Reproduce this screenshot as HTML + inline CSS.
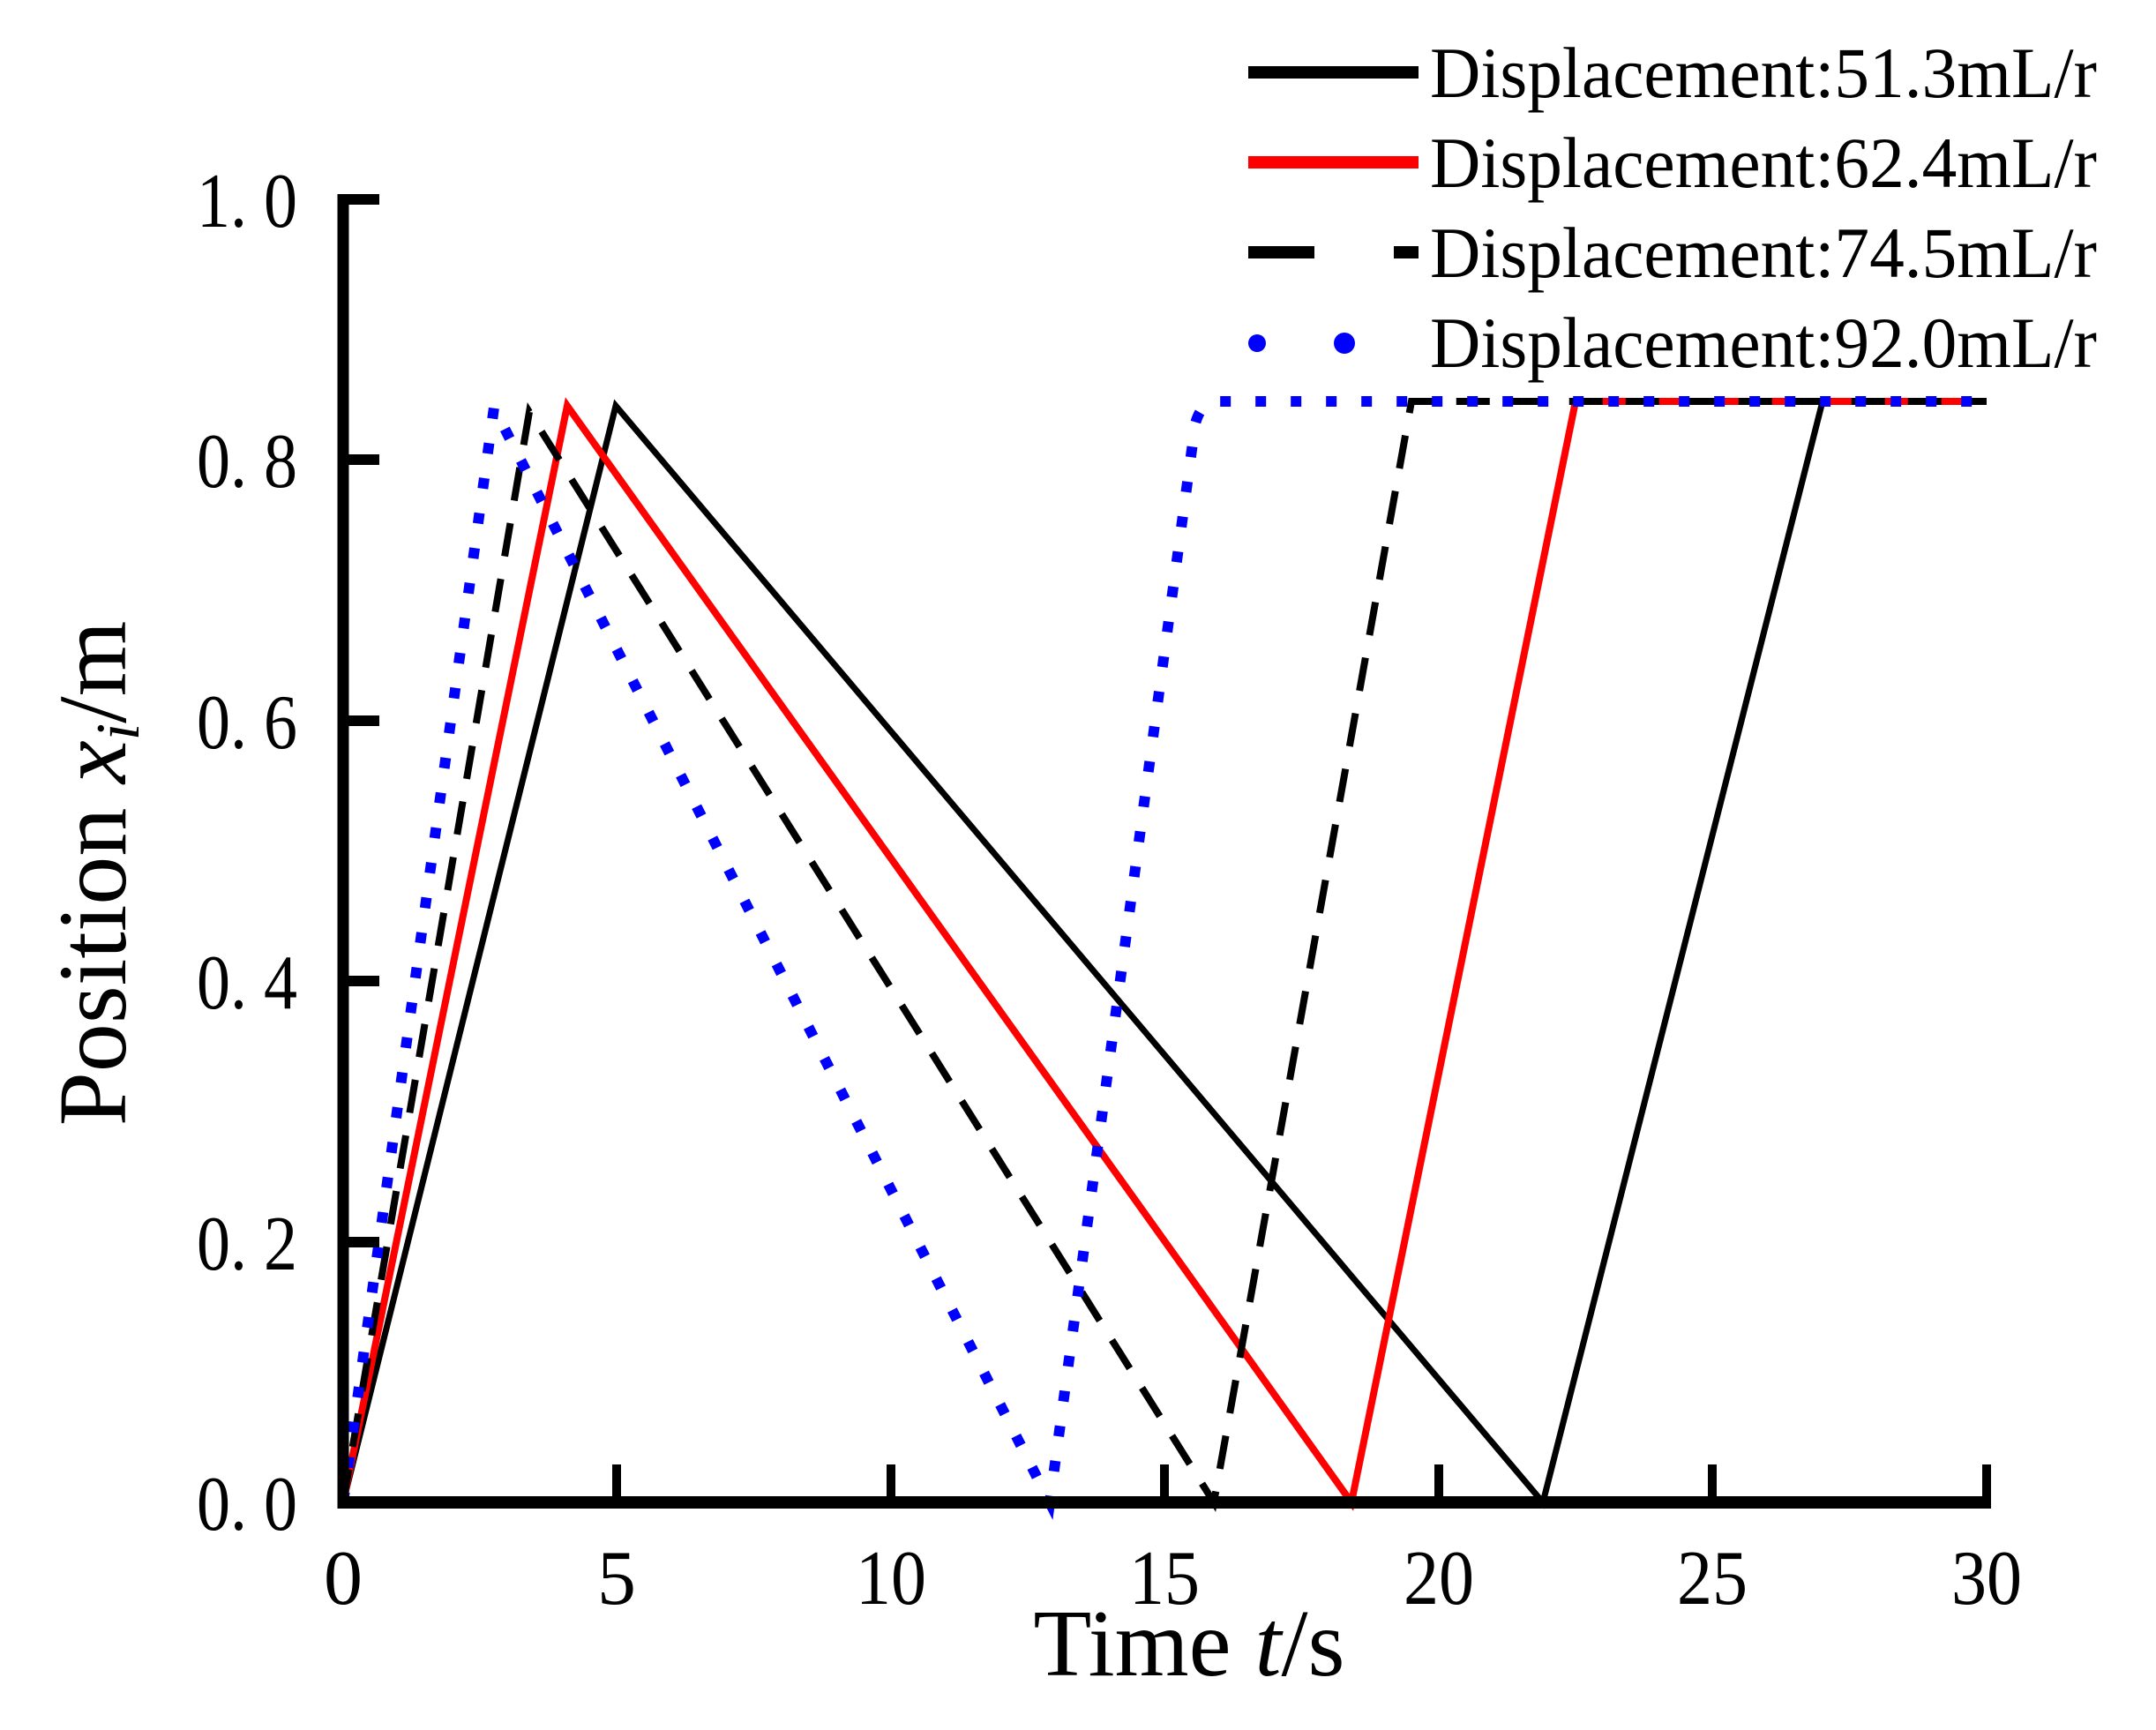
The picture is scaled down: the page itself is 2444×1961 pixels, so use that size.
<!DOCTYPE html>
<html><head><meta charset="utf-8"><style>html,body{margin:0;padding:0;background:#fff}</style></head>
<body>
<svg width="2444" height="1956" viewBox="0 0 2444 1956" xmlns="http://www.w3.org/2000/svg">
<g fill="none" stroke-linejoin="miter">
<polyline points="389,1703 698,460 1749,1703 2066,455 2252,455" stroke="#000" stroke-width="7"/>
<polyline points="389,1703 643,460 1532,1703 1786,455 2252,455" stroke="#f00" stroke-width="8"/>
<polyline points="389,1703 600,467 1376,1703 1600,455 2252,455" stroke="#000" stroke-width="8" stroke-dasharray="38,26"/>
<path d="M389,1703 L560,462 L1190,1703 L1355,480 Q1362,455 1380,455 L2252,455" stroke="#00f" stroke-width="12" stroke-dasharray="12,28" stroke-linecap="butt"/>
<line x1="389" y1="220" x2="389" y2="1710" stroke="#000" stroke-width="13"/>
<line x1="383" y1="1703" x2="2256" y2="1703" stroke="#000" stroke-width="14"/>
<g stroke="#000" stroke-width="12">
<line x1="389" y1="226" x2="430" y2="226"/>
<line x1="389" y1="521" x2="430" y2="521"/>
<line x1="389" y1="817" x2="430" y2="817"/>
<line x1="389" y1="1112" x2="430" y2="1112"/>
<line x1="389" y1="1408" x2="430" y2="1408"/>
</g>
<g stroke="#000" stroke-width="10">
<line x1="699" y1="1703" x2="699" y2="1660"/>
<line x1="1010" y1="1703" x2="1010" y2="1660"/>
<line x1="1320" y1="1703" x2="1320" y2="1660"/>
<line x1="1631" y1="1703" x2="1631" y2="1660"/>
<line x1="1941" y1="1703" x2="1941" y2="1660"/>
<line x1="2252" y1="1660" x2="2252" y2="1710"/>
</g>
<line x1="1415" y1="82" x2="1608" y2="82" stroke="#000" stroke-width="14"/>
<line x1="1415" y1="184" x2="1608" y2="184" stroke="#f00" stroke-width="14"/>
<line x1="1415" y1="286" x2="1490" y2="286" stroke="#000" stroke-width="14"/>
<line x1="1580" y1="286" x2="1608" y2="286" stroke="#000" stroke-width="14"/>
<circle cx="1425" cy="389" r="10" fill="#00f" stroke="none"/>
<circle cx="1524" cy="389" r="12" fill="#00f" stroke="none"/>
</g>
<g font-family="Liberation Serif, serif" fill="#000">
<text x="1621" y="110" font-size="82" textLength="756" lengthAdjust="spacingAndGlyphs">Displacement:51.3mL/r</text>
<text x="1621" y="212" font-size="82" textLength="756" lengthAdjust="spacingAndGlyphs">Displacement:62.4mL/r</text>
<text x="1621" y="314" font-size="82" textLength="756" lengthAdjust="spacingAndGlyphs">Displacement:74.5mL/r</text>
<text x="1621" y="416" font-size="82" textLength="756" lengthAdjust="spacingAndGlyphs">Displacement:92.0mL/r</text>
<g font-size="88" text-anchor="end">
<text x="337" y="257" textLength="114" lengthAdjust="spacingAndGlyphs">1. 0</text>
<text x="337" y="552" textLength="114" lengthAdjust="spacingAndGlyphs">0. 8</text>
<text x="337" y="848" textLength="114" lengthAdjust="spacingAndGlyphs">0. 6</text>
<text x="337" y="1143" textLength="114" lengthAdjust="spacingAndGlyphs">0. 4</text>
<text x="337" y="1439" textLength="114" lengthAdjust="spacingAndGlyphs">0. 2</text>
<text x="337" y="1734" textLength="114" lengthAdjust="spacingAndGlyphs">0. 0</text>
</g>
<g font-size="88" text-anchor="middle">
<text x="389" y="1818">0</text>
<text x="699" y="1818">5</text>
<text x="1010" y="1818" textLength="80" lengthAdjust="spacingAndGlyphs">10</text>
<text x="1320" y="1818" textLength="80" lengthAdjust="spacingAndGlyphs">15</text>
<text x="1631" y="1818" textLength="80" lengthAdjust="spacingAndGlyphs">20</text>
<text x="1941" y="1818" textLength="80" lengthAdjust="spacingAndGlyphs">25</text>
<text x="2252" y="1818" textLength="80" lengthAdjust="spacingAndGlyphs">30</text>
</g>
<text x="1348" y="1899" font-size="108" text-anchor="middle">Time <tspan font-style="italic">t</tspan>/s</text>
<text transform="translate(142,990) rotate(-90)" font-size="110" text-anchor="middle">Position <tspan font-style="italic">x</tspan><tspan font-style="italic" font-size="70" dy="15">i</tspan><tspan dy="-15">/m</tspan></text>
</g>
</svg>
</body></html>
